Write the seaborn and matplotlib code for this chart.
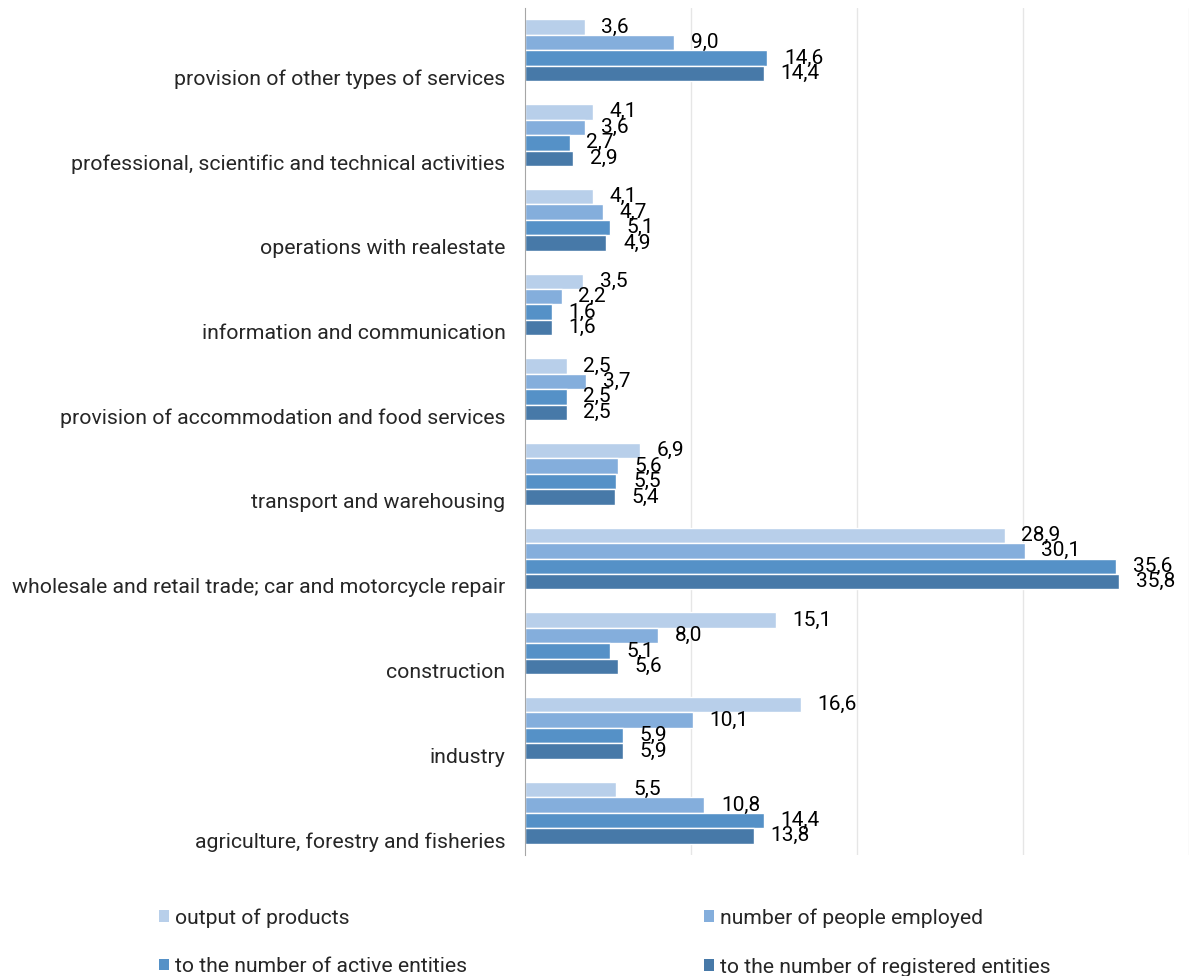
import numpy as np
import pandas as pd
import seaborn as sns
import matplotlib.pyplot as plt
from matplotlib.patches import Patch

categories = [
    "provision of other types of services",
    "professional, scientific and technical activities",
    "operations with realestate",
    "information and communication",
    "provision of accommodation and food services",
    "transport and warehousing",
    "wholesale and retail trade; car and motorcycle repair",
    "construction",
    "industry",
    "agriculture, forestry and fisheries",
]
series = [
    "output of products",
    "number of people employed",
    "to the number of active entities",
    "to the number of registered entities",
]
output_vals = [3.6, 4.1, 4.1, 3.5, 2.5, 6.9, 28.9, 15.1, 16.6, 5.5]
employed_vals = [9.0, 3.6, 4.7, 2.2, 3.7, 5.6, 30.1, 8.0, 10.1, 10.8]
active_vals = [14.6, 2.7, 5.1, 1.6, 2.5, 5.5, 35.6, 5.1, 5.9, 14.4]
registered_vals = [14.4, 2.9, 4.9, 1.6, 2.5, 5.4, 35.8, 5.6, 5.9, 13.8]
colors = ["#b8cfea", "#84aedc", "#5591c7", "#4779a8"]

rows = []
for s, vals in zip(series, [output_vals, employed_vals, active_vals, registered_vals]):
    for c, v in zip(categories, vals):
        rows.append({"category": c, "series": s, "value": v})
df = pd.DataFrame(rows)

sns.set_style("white")
plt.rcParams["font.family"] = ["Roboto", "DejaVu Sans"]

fig = plt.figure(figsize=(11.89, 9.76), dpi=100)
ax = fig.add_axes([525 / 1189, 1 - 855 / 976, 1 - 525 / 1189, (855 - 8) / 976])

sns.barplot(data=df, y="category", x="value", hue="series", order=categories,
            hue_order=series, palette=colors, saturation=1, orient="h", width=0.73,
            edgecolor="white", linewidth=1, legend=False, ax=ax)

for cont in ax.containers:
    labels = [f"{b.get_width():.1f}".replace(".", ",") for b in cont]
    ax.bar_label(cont, labels=labels, padding=12, fontsize=15, color="black")

ax.set_xlim(0, 40)
ax.set_ylim(len(categories) - 0.5, -0.5)
ax.set_xticks([10, 20, 30, 40])
ax.set_xticklabels([])
ax.tick_params(axis="x", length=0)
ax.grid(axis="x", color="#e6e6e6", linewidth=1)
ax.set_axisbelow(True)
ax.set_yticks(np.arange(len(categories)) + 0.32)
ax.set_yticklabels(categories, fontsize=15.3)
ax.tick_params(axis="y", length=0, pad=14)
ax.set_xlabel("")
ax.set_ylabel("")
for side in ["top", "right", "bottom"]:
    ax.spines[side].set_visible(False)
ax.spines["left"].set_color("#a6a6a6")

# legend fills row by row in the reference
order = [0, 2, 1, 3]
handles = [Patch(facecolor=colors[i], edgecolor="none") for i in order]
fig.legend(handles, [series[i] for i in order], loc="upper left",
           bbox_to_anchor=(140 / 1189, 1 - 889 / 976),
           ncol=2, frameon=False, fontsize=15.2, handlelength=0.47, handleheight=0.47,
           handletextpad=0.3, columnspacing=11.2, labelspacing=1.4)

fig.savefig("out.png", dpi=100)
